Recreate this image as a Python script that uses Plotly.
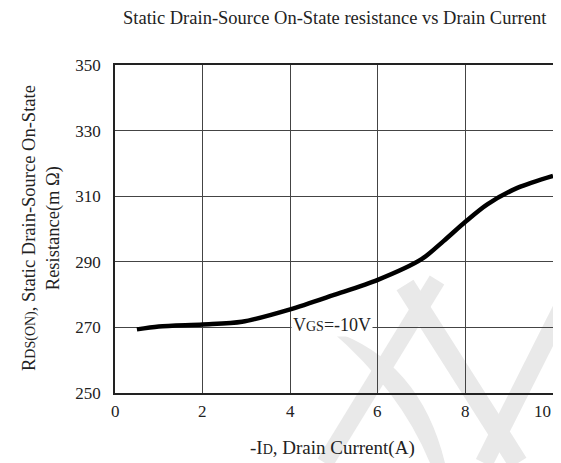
import plotly.graph_objects as go

# Data
drain_current = [0.5, 1.0, 2.0, 2.9, 4.0, 5.0, 6.0, 7.0, 7.5, 8.0, 8.5, 9.2, 10.0]
rds_on = [269.4, 270.3, 270.9, 271.7, 275.5, 279.9, 284.5, 290.8, 296.3, 302.2, 307.5, 312.6, 316.2]
x_ticks = [0, 2, 4, 6, 8, 10]
x_tick_labels = ["0", "2", "4", "6", "8", "10"]
y_ticks = [250, 270, 290, 310, 330, 350]

FONT = "Liberation Serif, Times New Roman, serif"
OFF = 8  # page body margin
W, H = 545, 455
# target plot box in page pixels: left 115, right 553, top 65, bottom 393
L, T = 115 - OFF, 65 - OFF
R = (W + OFF) - 553
B = (H + OFF) - 393
pw, ph = W - L - R, H - T - B

def px(xp):
    return (xp - OFF - L) / pw

def py(yp):
    return (H - B - (yp - OFF)) / ph

fig = go.Figure()
fig.add_trace(go.Scatter(
    x=drain_current, y=rds_on, mode="lines",
    line=dict(color="black", width=4.5, shape="spline", smoothing=0.8),
    showlegend=False, hoverinfo="skip", cliponaxis=False,
))

# faint watermark strokes (decoration)
wm = "#e9e9e9"
strokes = [
    ((437, 280), (325, 463), 17),
    ((405, 285), (518, 463), 20),
    ((565, 302), (484, 463), 18),
]
shapes = []
for (x0, y0), (x1, y1), w in strokes:
    shapes.append(dict(type="line", xref="paper", yref="paper",
                       x0=px(x0), y0=py(y0), x1=px(x1), y1=py(y1),
                       line=dict(color=wm, width=w), layer="below"))
shapes.append(dict(type="path", xref="paper", yref="paper", layer="below",
                   path="M {} {} Q {} {} {} {} L {} {} Q {} {} {} {} Z".format(
                       px(330), py(330), px(420), py(360), px(445), py(463),
                       px(430), py(463), px(400), py(390), px(330), py(330)),
                   fillcolor=wm, line=dict(width=0)))

annotations = [
    dict(text="Static Drain-Source On-State resistance vs Drain Current",
         xref="paper", yref="paper", x=px(335), y=py(18), showarrow=False,
         xanchor="center", yanchor="middle",
         font=dict(family=FONT, size=18.5, color="#222")),
    dict(text="-I<span style='font-size:14px'>D</span>, Drain Current(A)",
         xref="paper", yref="paper", x=px(332), y=py(448), showarrow=False,
         xanchor="center", yanchor="middle",
         font=dict(family=FONT, size=19, color="#222")),
    dict(text="R<span style='font-size:14px'>DS(ON)</span>, Static Drain-Source On-State<br>Resistance(m Ω)",
         xref="paper", yref="paper", x=px(41), y=py(228), showarrow=False,
         xanchor="center", yanchor="middle", textangle=-90,
         font=dict(family=FONT, size=18.5, color="#222")),
    dict(text="V<span style='font-size:14px'>GS</span>=-10V",
         x=4.96, y=270.6, xref="x", yref="y", showarrow=False,
         xanchor="center", yanchor="middle", bgcolor="white", borderpad=1,
         font=dict(family=FONT, size=18, color="#222")),
]
# x tick labels (last one kept inside the window, as in the reference)
for i, (v, t) in enumerate(zip(x_ticks, x_tick_labels)):
    last = i == len(x_ticks) - 1
    annotations.append(dict(
        text=t, x=v, xref="x", y=py(411), yref="paper", showarrow=False,
        xanchor="right" if last else "center", xshift=0,
        yanchor="middle", font=dict(family=FONT, size=17, color="#222")))

fig.update_layout(
    width=W, height=H,
    margin=dict(l=L, r=R, t=T, b=B, autoexpand=False),
    paper_bgcolor="white", plot_bgcolor="rgba(0,0,0,0)",
    font=dict(family=FONT, size=16, color="#222"),
    shapes=shapes,
    xaxis=dict(range=[0, 10], tickvals=x_ticks, ticks="", showgrid=True,
               showticklabels=False,
               gridcolor="#444", gridwidth=1, showline=True, linecolor="#222",
               linewidth=1.5, mirror=True, zeroline=False, automargin=False),
    yaxis=dict(range=[250, 350], tickvals=y_ticks, ticks="", showgrid=True,
               gridcolor="#444", gridwidth=1, showline=True, linecolor="#222",
               linewidth=1.5, mirror=True, zeroline=False, automargin=False,
               ticklabeloverflow="allow",
               tickfont=dict(family=FONT, size=17, color="#222"),
               ticklabelstandoff=9),
    annotations=annotations,
)

fig.write_html("out.html")
